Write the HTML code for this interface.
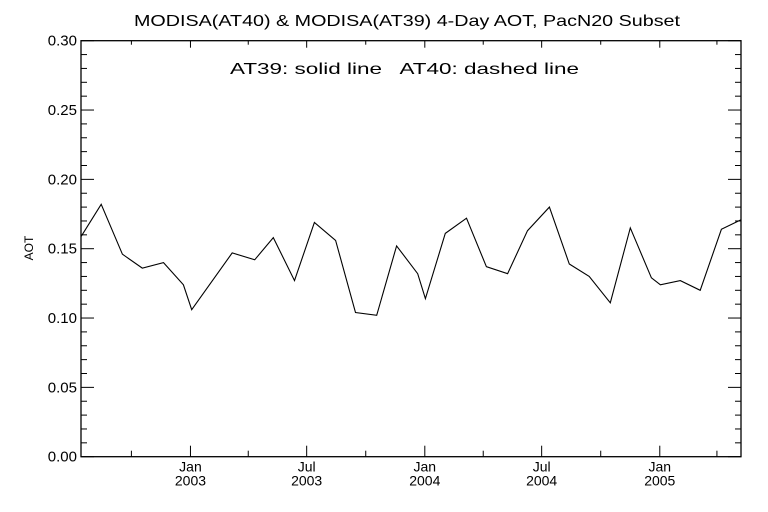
<!DOCTYPE html>
<html><head><meta charset="utf-8"><style>
html,body{margin:0;padding:0;background:#fff;}
svg{display:block;font-family:"Liberation Sans",sans-serif;}
</style></head><body>
<svg id="chart" width="768" height="512" viewBox="0 0 768 512">
<rect width="768" height="512" fill="#fff"/>
<text x="134" y="26" font-size="16" textLength="546" lengthAdjust="spacingAndGlyphs">MODISA(AT40) &amp; MODISA(AT39) 4-Day AOT, PacN20 Subset</text>
<text x="230" y="74" font-size="16" textLength="349" lengthAdjust="spacingAndGlyphs" xml:space="preserve">AT39: solid line   AT40: dashed line</text>
<text x="0" y="0" transform="translate(33,248) rotate(-90)" text-anchor="middle" font-size="12">AOT</text>
<g id="axes"></g>
<g id="series"></g>
</svg>
<script>
// day offsets from 2003-01-01
const days = [-170,-139,-106,-75,-42,-11,2,65,100,129,162,193,226,257,290,321,354,366,397,430,461,494,525,559,590,621,654,685,718,732,763,794,827,858];
const at39 = [0.159,0.182,0.146,0.136,0.140,0.124,0.106,0.147,0.142,0.158,0.127,0.169,0.156,0.104,0.102,0.152,0.132,0.114,0.161,0.172,0.137,0.132,0.163,0.180,0.139,0.130,0.111,0.165,0.129,0.124,0.127,0.120,0.164,0.171];
const yTicks = [0,0.05,0.10,0.15,0.20,0.25,0.30];
const yTickLabels = ["0.00","0.05","0.10","0.15","0.20","0.25","0.30"];
const xMajorDays = [0,181,365,547,731];
const xMajorLabels = [["Jan","2003"],["Jul","2003"],["Jan","2004"],["Jul","2004"],["Jan","2005"]];
const xMinorDays = [-92,90,273,456,639,820];

const L=81,R=741,T=40.7,B=456.7;
const D0=-170.5,D1=857.5;
const xs=d=>L+(d-D0)/(D1-D0)*(R-L);
const ys=v=>B-(v/0.30)*(B-T);
const NS="http://www.w3.org/2000/svg";
function mk(tag,parent,attrs){const e=document.createElementNS(NS,tag);for(const k in attrs)e.setAttribute(k,attrs[k]);parent.appendChild(e);return e;}
const ax=document.getElementById('axes');
const fr=mk('rect',ax,{x:L,y:T,width:R-L,height:B-T,fill:'none',stroke:'#000','stroke-width':1.3});


for(let i=0;i<yTicks.length;i++){
  const y=ys(yTicks[i]);
  const t=mk('text',ax,{x:L-4,y:y+5,'text-anchor':'end','font-size':15});
  t.textContent=yTickLabels[i];
  
  
  mk('line',ax,{x1:L,x2:L+13,y1:y,y2:y,stroke:'#000'});
  mk('line',ax,{x1:R,x2:R-13,y1:y,y2:y,stroke:'#000'});
}
for(let v=0.01;v<0.3;v+=0.01){
  if(Math.abs(v*20-Math.round(v*20))<1e-6)continue;
  const y=ys(v);
  mk('line',ax,{x1:L,x2:L+6,y1:y,y2:y,stroke:'#000'});
  mk('line',ax,{x1:R,x2:R-6,y1:y,y2:y,stroke:'#000'});
}
for(let i=0;i<xMajorDays.length;i++){
  const x=xs(xMajorDays[i]);
  mk('line',ax,{x1:x,x2:x,y1:B,y2:B-11,stroke:'#000'});
  mk('line',ax,{x1:x,x2:x,y1:T,y2:T+7,stroke:'#000'});
  const t1=mk('text',ax,{x:x,y:B+15,'text-anchor':'middle','font-size':14});
  t1.textContent=xMajorLabels[i][0];
  
  
  const t2=mk('text',ax,{x:x,y:B+29,'text-anchor':'middle','font-size':14});
  t2.textContent=xMajorLabels[i][1];
  
  
}
for(const d of xMinorDays){
  const x=xs(d);
  mk('line',ax,{x1:x,x2:x,y1:B,y2:B-6,stroke:'#000'});
  mk('line',ax,{x1:x,x2:x,y1:T,y2:T+4,stroke:'#000'});
}
const sg=document.getElementById('series');
const pts=days.map((d,i)=>xs(d).toFixed(1)+','+ys(at39[i]).toFixed(1)).join(' ');
const pl=mk('polyline',sg,{points:pts,fill:'none',stroke:'#000','stroke-width':1.1});


</script>
</body></html>
